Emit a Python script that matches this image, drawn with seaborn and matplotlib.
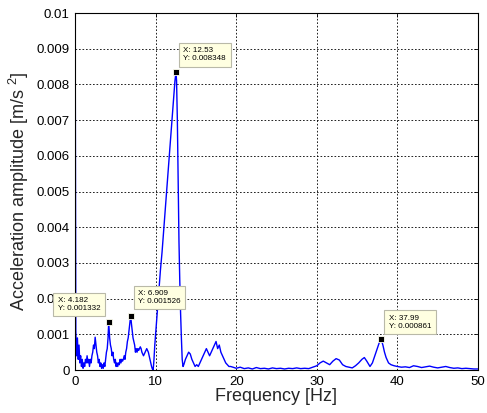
import numpy as np
import pandas as pd
import matplotlib
matplotlib.use("Agg")
import matplotlib.pyplot as plt
import seaborn as sns

# ---- data ----
freq = [0.0, 0.1, 0.2, 0.3, 0.4, 0.5, 0.6, 0.7, 0.8, 0.9,
        1.0, 1.1, 1.2, 1.3, 1.4, 1.5, 1.6, 1.7, 1.8, 1.9,
        2.0, 2.1, 2.2, 2.3, 2.4, 2.5, 2.6, 2.7, 2.8, 2.9,
        3.0, 3.1, 3.2, 3.3, 3.4, 3.5, 3.6, 3.7, 3.8, 3.9,
        4.0, 4.1, 4.182, 4.3, 4.4, 4.5, 4.6, 4.7, 4.8, 4.9,
        5.0, 5.1, 5.2, 5.3, 5.4, 5.5, 5.6, 5.7, 5.8, 5.9,
        6.0, 6.1, 6.2, 6.3, 6.4, 6.5, 6.6, 6.7, 6.8, 6.909,
        7.0, 7.1, 7.2, 7.3, 7.4, 7.5, 7.6, 7.7, 7.8, 7.9,
        8.0, 8.1, 8.2, 8.3, 8.4, 8.5, 8.6, 8.7, 8.8, 8.9,
        9.0, 9.1, 9.2, 9.3, 9.4, 9.5, 9.6, 9.7, 9.8, 9.9,
        10.0, 10.2, 10.4, 10.6, 10.8, 11.0, 11.2, 11.4, 11.6, 11.8,
        12.0, 12.2, 12.4, 12.53, 12.6, 12.7, 12.8, 12.9, 13.0, 13.1,
        13.2, 13.3, 13.4, 13.5, 13.7, 13.9, 14.1, 14.3, 14.5, 14.7,
        14.9, 15.1, 15.3, 15.5, 15.7, 15.9, 16.1, 16.3, 16.5, 16.7,
        16.9, 17.1, 17.3, 17.5, 17.7, 17.9, 18.1, 18.3, 18.5, 18.7,
        18.9, 19.1, 19.3, 19.6, 20.0, 20.5, 21.0, 21.5, 22.0, 22.5,
        23.0, 23.5, 24.0, 24.5, 25.0, 25.5, 26.0, 26.5, 27.0, 27.5,
        28.0, 28.5, 29.0, 29.5, 30.0, 30.4, 30.8, 31.2, 31.6, 32.0,
        32.4, 32.8, 33.2, 33.6, 34.0, 34.4, 34.8, 35.2, 35.6, 35.9,
        36.2, 36.6, 36.9, 37.2, 37.5, 37.8, 37.99, 38.2, 38.4, 38.6,
        38.9, 39.2, 39.6, 40.0, 40.5, 41.0, 41.5, 42.0, 42.5, 43.0,
        43.5, 44.0, 44.5, 45.0, 45.5, 46.0, 46.5, 47.0, 47.5, 48.0,
        48.5, 49.0, 49.5, 50.0]

amp = [0.012, 0.0011, 0.0004, 0.0009, 0.0003, 0.0007, 0.0002, 0.0004, 0.0001, 0.0003,
       0.00005, 0.0002, 0.0001, 0.0003, 0.0002, 0.0004, 0.0002, 0.0003, 0.0001, 0.0003,
       0.0002, 0.0004, 0.0005, 0.0007, 0.0006, 0.00092, 0.0007, 0.0005, 0.0004, 0.0002,
       0.0003, 0.0001, 0.0002, 0.00005, 0.00015, 0.00005, 0.0002, 0.0001, 0.0003, 0.0005,
       0.0006, 0.0009, 0.001332, 0.0009, 0.0007, 0.0006, 0.0004, 0.0005, 0.0003, 0.0002,
       0.0003, 0.0001, 0.0002, 0.0001, 0.0002, 0.00015, 0.0003, 0.0002, 0.0003, 0.00025,
       0.0003, 0.0004, 0.0003, 0.0005, 0.0006, 0.0008, 0.0009, 0.0011, 0.0013, 0.001526,
       0.0013, 0.0011, 0.0009, 0.0008, 0.0007, 0.0005, 0.0006, 0.0005, 0.0006, 0.00055,
       0.0006, 0.00065, 0.0006, 0.0005, 0.00045, 0.0004, 0.00045, 0.0005, 0.00055, 0.0006,
       0.00055, 0.0005, 0.0004, 0.0003, 0.0002, 0.0001, 0.00003, 0.0, 0.0003, 0.0007,
       0.001, 0.0016, 0.0022, 0.0028, 0.0033, 0.0039, 0.0045, 0.0051, 0.0057, 0.0063,
       0.0069, 0.0075, 0.0081, 0.008348, 0.0081, 0.007, 0.0052, 0.0036, 0.0025, 0.0016,
       0.0009, 0.0003, 0.0001, 0.00015, 0.0003, 0.0004, 0.0005, 0.00045, 0.0003, 0.0002,
       0.0001, 0.00015, 0.0001, 0.0002, 0.0003, 0.0004, 0.0005, 0.0006, 0.0005, 0.0004,
       0.0005, 0.0006, 0.0007, 0.0008, 0.0006, 0.0007, 0.0005, 0.0004, 0.0003, 0.0002,
       0.00015, 0.0001, 0.0001, 0.00008, 0.00005, 0.00008, 0.00004, 0.00006, 0.00003, 0.00007,
       0.00004, 0.00005, 0.00003, 0.00006, 0.00004, 0.00005, 0.00003, 0.00005, 0.00004, 0.00006,
       0.00004, 0.00005, 0.00004, 0.00008, 0.00012, 0.0002, 0.00025, 0.0002, 0.00015, 0.00025,
       0.00032, 0.00028, 0.00015, 0.0001, 0.00008, 0.00006, 0.00012, 0.0002, 0.0003, 0.00035,
       0.00025, 0.0001, 0.0002, 0.0004, 0.0006, 0.0008, 0.000861, 0.0007, 0.0005, 0.00035,
       0.0002, 0.00015, 0.00012, 0.0001, 0.00008, 0.00009, 0.00007, 0.00012, 0.0001, 0.00007,
       0.00009, 0.00011, 0.00008, 0.00006, 0.00008, 0.0001, 0.00007, 0.00005, 0.00006, 0.00004,
       0.00005, 0.00004, 0.00003, 0.00003]

tip_x = [4.182, 6.909, 12.53, 37.99]
tip_y = [0.001332, 0.001526, 0.008348, 0.000861]

x_ticks = [0, 10, 20, 30, 40, 50]
y_ticks = [0, 0.001, 0.002, 0.003, 0.004, 0.005, 0.006, 0.007, 0.008, 0.009, 0.01]
y_tick_labels = ["0", "0.001", "0.002", "0.003", "0.004", "0.005",
                 "0.006", "0.007", "0.008", "0.009", "0.01"]

# ---- styling ----
sns.set_style("white")
plt.rcParams["font.family"] = ["Liberation Sans", "DejaVu Sans"]
plt.rcParams["mathtext.default"] = "regular"

fig = plt.figure(figsize=(4.87, 4.13), dpi=100)
ax = fig.add_axes([0.154, 0.104, 0.8275, 0.8645])

df = pd.DataFrame({"Frequency": freq, "Amplitude": amp})
sns.lineplot(data=df, x="Frequency", y="Amplitude", ax=ax, color="#0000ff",
             lw=1.0, estimator=None, sort=False, legend=False)

ax.set_xlim(0, 50)
ax.set_ylim(0, 0.01)
ax.set_xticks(x_ticks)
ax.set_xticklabels([str(t) for t in x_ticks])
ax.set_yticks(y_ticks)
ax.set_yticklabels(y_tick_labels)
ax.grid(True, color="k", linestyle=(0, (2.0, 2.2)), linewidth=0.6)
for s in ax.spines.values():
    s.set_color("k")
    s.set_linewidth(0.8)
ax.tick_params(direction="in", length=3, width=0.6, top=True, right=True,
               labelsize=9.5, colors="k", pad=4)
ax.set_xlabel("Frequency [Hz]", fontsize=13, labelpad=0)
ax.set_ylabel("Acceleration amplitude [m/s $^{2}$]", fontsize=13, labelpad=4)

# data tips
ax.plot(tip_x, tip_y, linestyle="none", marker="s", markersize=4.5,
        markerfacecolor="k", markeredgecolor="#fffff0", markeredgewidth=0.6,
        zorder=6, clip_on=False)
offsets = [(-8.5, 10.5, "right"), (7.5, 10.5, "left"),
           (7.5, 9.5, "left"), (7.5, 9.5, "left")]
for xv, yv, (dx, dy, ha) in zip(tip_x, tip_y, offsets):
    ax.annotate(f"X: {xv:g}\nY: {yv:g}", xy=(xv, yv), xytext=(dx, dy),
                textcoords="offset pixels", ha=ha, va="bottom",
                multialignment="left", fontsize=5.8, color="k",
                zorder=7, annotation_clip=False,
                bbox=dict(boxstyle="square,pad=0.55", fc="#ffffe1",
                          ec="#b9b9a8", lw=0.8))

fig.savefig("out.png", dpi=100)
